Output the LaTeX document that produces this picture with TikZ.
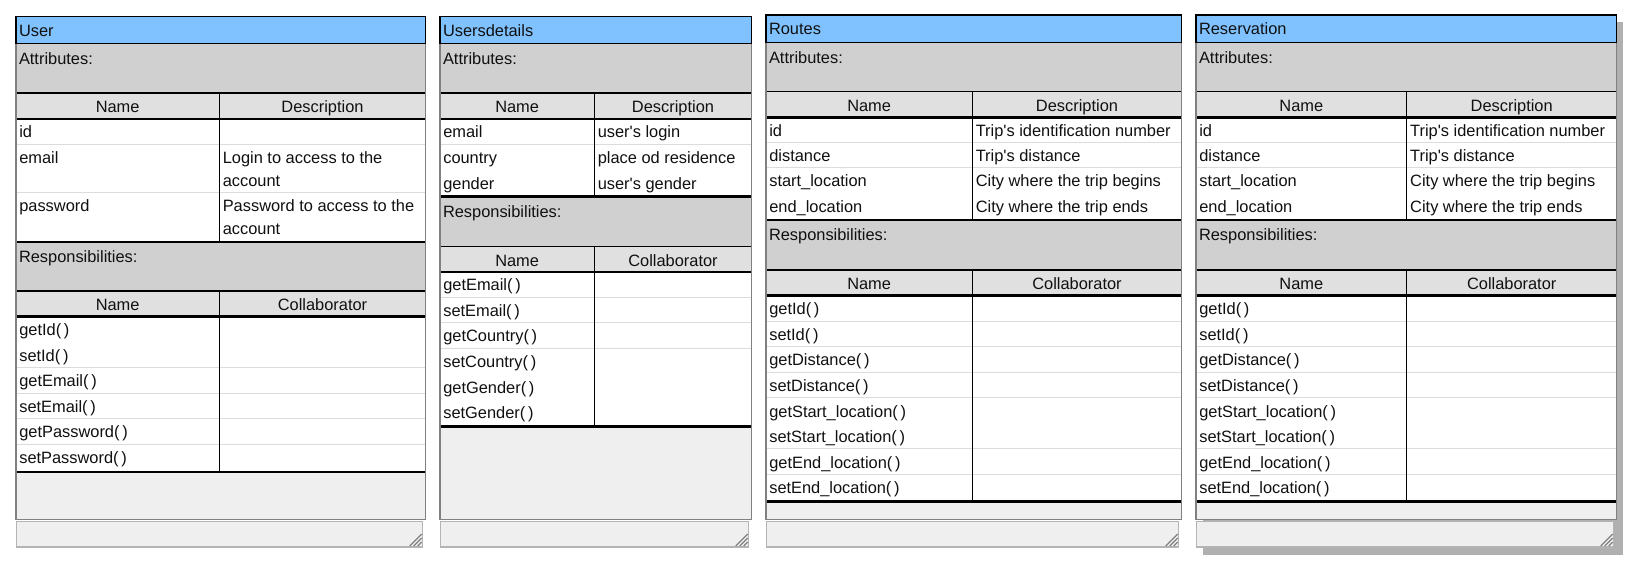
\documentclass[tikz,border=0pt]{standalone}
\usepackage{fontspec}
\setmainfont{Liberation Sans}[Ligatures=TeXOff]
\definecolor{hdrblue}{HTML}{80C2FF}
\definecolor{secgrey}{HTML}{D0D0D0}
\definecolor{hdrgrey}{HTML}{E0E0E0}
\definecolor{bodygrey}{HTML}{EFEFEF}
\definecolor{sepgrey}{HTML}{DCDCDC}
\definecolor{edgegrey}{HTML}{808080}
\definecolor{bargrey}{HTML}{B4B4B4}
\definecolor{shadowgrey}{HTML}{B0B0B0}
\definecolor{inkc}{HTML}{101010}

\newcommand\twoline[2]{\vtop{\baselineskip=16.7pt\hbox{#1}\hbox{#2}}}

% card frame: #1 name, #2 L, #3 R, #4 T, #5 header bottom, #6 title
\newcommand\crcframe[6]{%
  \fill[bodygrey] (#2,#5) rectangle (#3,519.3);
  \draw[barbox] ({#2+0.7},521.7) rectangle ({#3-3},547);
  \foreach \k in {4,8,12} {\draw[gripline] ({#3-4-\k},546) -- ({#3-4},{546-\k});}
  \draw[titlebox] (#2,#4) rectangle (#3,#5);
  \node[cell] (#1) at ({#2+3},{#4+20}) {#6};
}
% grey section: #1 name, #2 L, #3 R, #4 top, #5 bottom, #6 label
\newcommand\crcsec[6]{%
  \fill[secgrey] (#2,#4) rectangle (#3,#5);
  \node[cell] (#1) at ({#2+3},{#4+21}) {#6};
}
% table header row: #1 name, #2 L, #3 D, #4 R, #5 top, #6 bottom, #7 second title
\newcommand\crchdr[7]{%
  \fill[hdrgrey] (#2,#5) rectangle (#4,#6);
  \draw[thinline] (#2,#5) -- (#4,#5);
  \node[hdr] (#1n) at ({(#2+#3)/2},{#5+20}) {Name};
  \node[hdr] (#1d) at ({(#3+#4)/2},{#5+20}) {#7};
}
% table row: #1 name, #2 L, #3 D, #4 R, #5 top, #6 bottom, #7 text1, #8 text2
\newcommand\crcrow[8]{%
  \fill[white] (#2,#5) rectangle (#4,#6);
  \draw[sepline] (#2,#6) -- (#4,#6);
  \node[cell] (#1n) at ({#2+3.3},{#5+19}) {#7};
  \if\relax\detokenize{#8}\relax\else
    \node[cell] (#1d) at ({#3+3.5},{#5+19}) {#8};
  \fi
}
% table rules: #1 L, #2 D, #3 R, #4 header top, #5 header bottom, #6 table end
\newcommand\crctab[6]{%
  \draw[thinline] (#2,#4) -- (#2,#6);
  \draw[thickline] (#1,#5) -- (#3,#5);
  \draw[thickline] (#1,#6) -- (#3,#6);
}
% card edges: #1 L, #2 R, #3 header bottom
\newcommand\crcedge[3]{%
  \draw[edgeline] (#1,#3) -- (#1,519.3) -- (#2,519.3) -- (#2,#3);
}

\begin{document}
\begin{tikzpicture}[x=0.75pt,y=-0.75pt,
  every node/.style={inner sep=0pt,outer sep=0pt,text=inkc,font=\fontsize{12.3}{15}\selectfont},
  cell/.style={anchor=base west},
  hdr/.style={anchor=base},
  sepline/.style={draw=sepgrey,line width=1.1pt},
  thickline/.style={draw=black,line width=2pt},
  thinline/.style={draw=black,line width=0.8pt},
  edgeline/.style={draw=edgegrey,line width=1.1pt},
  titlebox/.style={fill=hdrblue,draw=black,line width=1.1pt},
  barbox/.style={fill=bodygrey,draw=bargrey,line width=0.8pt},
  gripline/.style={draw=edgegrey,line width=0.9pt}]
\useasboundingbox[fill=white] (0,0) rectangle (1639,570);

% ---------------- User ----------------
\crcframe{u}{16}{425.7}{16.7}{44}{User}
\crcsec{ua}{16}{425.7}{44}{93}{Attributes:}
\crchdr{uah}{16}{219.3}{425.7}{93}{119}{Description}
\crcrow{ua1}{16}{219.3}{425.7}{119}{145}{id}{}
\crcrow{ua2}{16}{219.3}{425.7}{145}{193}{email}{\twoline{Login to access to the}{account}}
\crcrow{ua3}{16}{219.3}{425.7}{193}{242}{password}{\twoline{Password to access to the}{account}}
\crcsec{ur}{16}{425.7}{242}{291}{Responsibilities:}
\crchdr{urh}{16}{219.3}{425.7}{291}{316.7}{Collaborator}
\crcrow{ur1}{16}{219.3}{425.7}{316.7}{342.3}{getId(\,)}{}
\crcrow{ur2}{16}{219.3}{425.7}{342.3}{367.7}{setId(\,)}{}
\crcrow{ur3}{16}{219.3}{425.7}{367.7}{393.7}{getEmail(\,)}{}
\crcrow{ur4}{16}{219.3}{425.7}{393.7}{418.7}{setEmail(\,)}{}
\crcrow{ur5}{16}{219.3}{425.7}{418.7}{444.7}{getPassword(\,)}{}
\crcrow{ur6}{16}{219.3}{425.7}{444.7}{472}{setPassword(\,)}{}
\crctab{16}{219.3}{425.7}{93}{119}{242}
\crctab{16}{219.3}{425.7}{291}{316.7}{472}
\crcedge{16}{425.7}{44}

% ---------------- Usersdetails ----------------
\crcframe{d}{440}{751.7}{16.7}{44}{Usersdetails}
\crcsec{da}{440}{751.7}{44}{93}{Attributes:}
\crchdr{dah}{440}{594.3}{751.7}{93}{119}{Description}
\crcrow{da1}{440}{594.3}{751.7}{119}{145}{email}{user's login}
\crcrow{da2}{440}{594.3}{751.7}{145}{170.3}{country}{place od residence}
\crcrow{da3}{440}{594.3}{751.7}{170.3}{196.7}{gender}{user's gender}
\crcsec{dr}{440}{751.7}{196.7}{246.7}{Responsibilities:}
\crchdr{drh}{440}{594.3}{751.7}{246.7}{272}{Collaborator}
\crcrow{dr1}{440}{594.3}{751.7}{272}{297.7}{getEmail(\,)}{}
\crcrow{dr2}{440}{594.3}{751.7}{297.7}{322.7}{setEmail(\,)}{}
\crcrow{dr3}{440}{594.3}{751.7}{322.7}{348.7}{getCountry(\,)}{}
\crcrow{dr4}{440}{594.3}{751.7}{348.7}{374.3}{setCountry(\,)}{}
\crcrow{dr5}{440}{594.3}{751.7}{374.3}{399.3}{getGender(\,)}{}
\crcrow{dr6}{440}{594.3}{751.7}{399.3}{426.7}{setGender(\,)}{}
\crctab{440}{594.3}{751.7}{93}{119}{196.7}
\crctab{440}{594.3}{751.7}{246.7}{272}{426.7}
\crcedge{440}{751.7}{44}

% ---------------- Routes ----------------
\crcframe{r}{766}{1181.7}{15}{42.7}{Routes}
\crcsec{ra}{766}{1181.7}{42.7}{91.7}{Attributes:}
\crchdr{rah}{766}{972.3}{1181.7}{91.7}{117.3}{Description}
\crcrow{ra1}{766}{972.3}{1181.7}{117.3}{142.7}{id}{Trip's identification number}
\crcrow{ra2}{766}{972.3}{1181.7}{142.7}{168}{distance}{Trip's distance}
\crcrow{ra3}{766}{972.3}{1181.7}{168}{193.3}{start\_location}{City where the trip begins}
\crcrow{ra4}{766}{972.3}{1181.7}{193.3}{220}{end\_location}{City where the trip ends}
\crcsec{rr}{766}{1181.7}{220}{270}{Responsibilities:}
\crchdr{rrh}{766}{972.3}{1181.7}{270}{295.7}{Collaborator}
\crcrow{rr1}{766}{972.3}{1181.7}{295.7}{321.7}{getId(\,)}{}
\crcrow{rr2}{766}{972.3}{1181.7}{321.7}{346.7}{setId(\,)}{}
\crcrow{rr3}{766}{972.3}{1181.7}{346.7}{372.7}{getDistance(\,)}{}
\crcrow{rr4}{766}{972.3}{1181.7}{372.7}{398}{setDistance(\,)}{}
\crcrow{rr5}{766}{972.3}{1181.7}{398}{423.3}{getStart\_location(\,)}{}
\crcrow{rr6}{766}{972.3}{1181.7}{423.3}{449}{setStart\_location(\,)}{}
\crcrow{rr7}{766}{972.3}{1181.7}{449}{474.7}{getEnd\_location(\,)}{}
\crcrow{rr8}{766}{972.3}{1181.7}{474.7}{501.7}{setEnd\_location(\,)}{}
\crctab{766}{972.3}{1181.7}{91.7}{117.3}{220}
\crctab{766}{972.3}{1181.7}{270}{295.7}{501.7}
\crcedge{766}{1181.7}{42.7}

% ---------------- Reservation ----------------
\fill[shadowgrey] (1203,21.7) rectangle (1622.7,555);
\crcframe{s}{1196}{1616.7}{15}{42.7}{Reservation}
\crcsec{sa}{1196}{1616.7}{42.7}{91.7}{Attributes:}
\crchdr{sah}{1196}{1406.7}{1616.7}{91.7}{117.3}{Description}
\crcrow{sa1}{1196}{1406.7}{1616.7}{117.3}{142.7}{id}{Trip's identification number}
\crcrow{sa2}{1196}{1406.7}{1616.7}{142.7}{168}{distance}{Trip's distance}
\crcrow{sa3}{1196}{1406.7}{1616.7}{168}{193.3}{start\_location}{City where the trip begins}
\crcrow{sa4}{1196}{1406.7}{1616.7}{193.3}{220}{end\_location}{City where the trip ends}
\crcsec{sr}{1196}{1616.7}{220}{270}{Responsibilities:}
\crchdr{srh}{1196}{1406.7}{1616.7}{270}{295.7}{Collaborator}
\crcrow{sr1}{1196}{1406.7}{1616.7}{295.7}{321.7}{getId(\,)}{}
\crcrow{sr2}{1196}{1406.7}{1616.7}{321.7}{346.7}{setId(\,)}{}
\crcrow{sr3}{1196}{1406.7}{1616.7}{346.7}{372.7}{getDistance(\,)}{}
\crcrow{sr4}{1196}{1406.7}{1616.7}{372.7}{398}{setDistance(\,)}{}
\crcrow{sr5}{1196}{1406.7}{1616.7}{398}{423.3}{getStart\_location(\,)}{}
\crcrow{sr6}{1196}{1406.7}{1616.7}{423.3}{449}{setStart\_location(\,)}{}
\crcrow{sr7}{1196}{1406.7}{1616.7}{449}{474.7}{getEnd\_location(\,)}{}
\crcrow{sr8}{1196}{1406.7}{1616.7}{474.7}{501.7}{setEnd\_location(\,)}{}
\crctab{1196}{1406.7}{1616.7}{91.7}{117.3}{220}
\crctab{1196}{1406.7}{1616.7}{270}{295.7}{501.7}
\crcedge{1196}{1616.7}{42.7}
\end{tikzpicture}
\end{document}
